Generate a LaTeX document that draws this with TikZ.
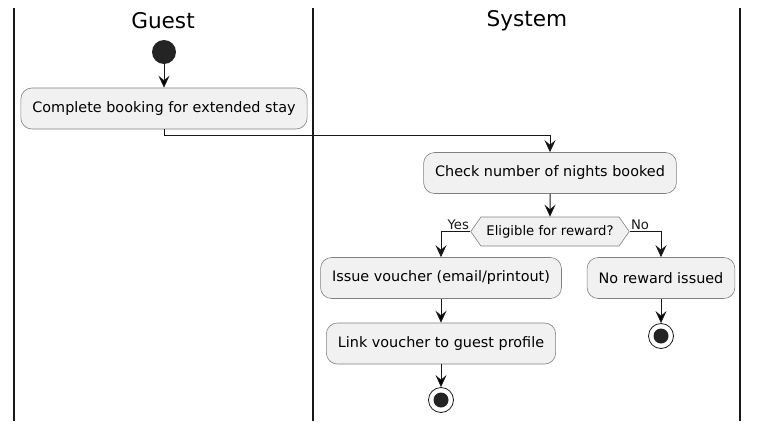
\documentclass[tikz,border=0pt]{standalone}
\usepackage{fontspec}
\setmainfont{DejaVu Sans}
\usepackage{tikz}
\usetikzlibrary{arrows.meta, shapes.symbols, positioning}

\definecolor{actfill}{HTML}{F1F1F1}
\definecolor{actline}{HTML}{181818}

\begin{document}
\begin{tikzpicture}[x=1pt, y=-1pt, >={Stealth[length=12pt,width=11pt,inset=4.5pt]}, on grid,
    action/.style={draw=actline!55, line width=0.6pt, fill=actfill, rounded corners=11pt,
        font=\fontsize{14.4}{16}\selectfont, inner xsep=11.5pt, minimum height=41pt},
    decision/.style={draw=actline!55, line width=0.6pt, fill=actfill, shape=signal,
        signal to=west and east, signal pointer angle=110, font=\fontsize{13.2}{15}\selectfont,
        inner xsep=5.5pt, inner ysep=2pt, minimum height=29pt},
    initialnode/.style={circle, fill=actline!95, minimum size=24pt, inner sep=0pt},
    finalnode/.style={circle, draw=actline, line width=0.8pt, fill=white, minimum size=25pt, inner sep=0pt,
        path picture={\fill[actline!95] (path picture bounding box.center) circle (7.5pt);}},
    lanetitle/.style={font=\fontsize{21.6}{24}\selectfont},
    branch/.style={font=\fontsize{13.2}{15}\selectfont, inner sep=1pt}]
        \useasboundingbox[fill=white] (0,0) rectangle (758,426);
        % swimlanes
        \draw[actline, line width=1.5pt] (14,8) -- (14,421) (313,8) -- (313,421) (740,8) -- (740,421);
        \node[lanetitle] (guest) at (163,21) {Guest};
        \node[lanetitle] (system) at (527,21) {System};
        % activities
        \node[initialnode] (start) at (164,52) {};
        \node[action] (book) [below=56.5pt of start] {Complete booking for extended stay};
        \node[action] (check) at (550,173) {Check number of nights booked};
        \node[decision] (elig) [below=58.5pt of check] {Eligible for reward?};
        \node[action] (issue) [below left=46.5pt and 109pt of elig] {Issue voucher (email/printout)};
        \node[action] (noreward) [right=220pt of issue] {No reward issued};
        \node[action] (link) [below=65.5pt of issue] {Link voucher to guest profile};
        \node[finalnode] (stop1) [below=56.5pt of link] {};
        \node[finalnode] (stop2) [below=58pt of noreward] {};
        \path[->, draw=actline, line width=1pt]
        (start) edge (book)
        (check) edge (elig)
        (issue) edge (link)
        (link) edge (stop1)
        (noreward) edge (stop2)
        ;
        \draw[->, actline, line width=1pt] (book.south) -- ++(0,6) -| (check.north);
        \draw[->, actline, line width=1pt] (elig.west) -| node[branch, pos=0, anchor=south east] {Yes} (issue.north);
        \draw[->, actline, line width=1pt] (elig.east) -| node[branch, pos=0, anchor=south west] {No} (noreward.north);
    \end{tikzpicture}
\end{document}
